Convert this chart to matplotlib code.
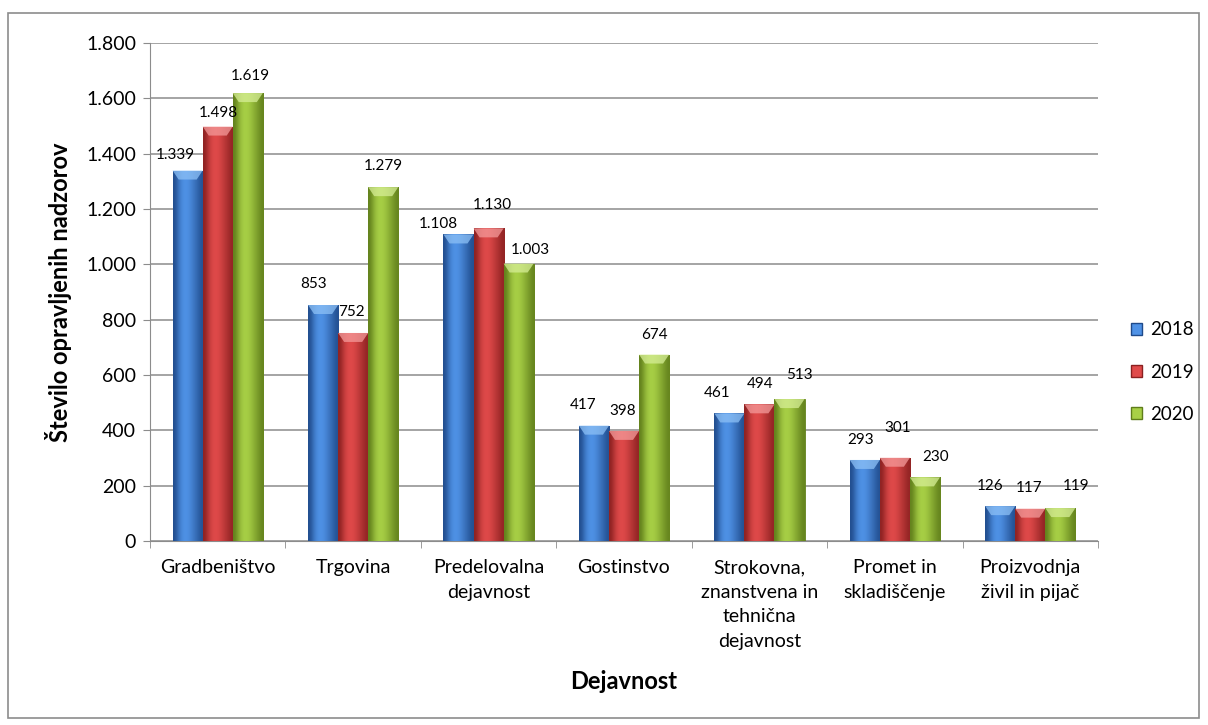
import matplotlib.pyplot as plt
import numpy as np
from matplotlib.colors import LinearSegmentedColormap
from matplotlib.patches import Polygon, Rectangle

# data
categories = ["Gradbeništvo", "Trgovina", "Predelovalna\ndejavnost", "Gostinstvo",
              "Strokovna,\nznanstvena in\ntehnična\ndejavnost", "Promet in\nskladiščenje",
              "Proizvodnja\nživil in pijač"]
years = ["2018", "2019", "2020"]
v2018 = [1339, 853, 1108, 417, 461, 293, 126]
v2019 = [1498, 752, 1130, 398, 494, 301, 117]
v2020 = [1619, 1279, 1003, 674, 513, 230, 119]

# label nudges (pixels) as placed in the original chart
lab_dx = [[-12, -10, -20, -11, -12, -4, -10],
          [1, -2, 4, -1, 1, 3, -1],
          [3, 0, 12, 0, 10, 11, 16]]
lab_dy = [[16, 21, 10, 21, 20, 20, 20],
          [14, 21, 23, 20, 20, 30, 21],
          [17, 21, 14, 20, 24, 20, 22]]

# (dark edge, light centre, top bevel)
colors = [("#1f4a8a", "#4f92e6", "#8cc0f6"),
          ("#8a2020", "#e04a4a", "#f49a9a"),
          ("#5f7d1a", "#a8d046", "#d6ee96")]

plt.rcParams['font.family'] = ['Lato', 'DejaVu Sans']

fig = plt.figure(figsize=(12.08, 7.25), dpi=100)
fig.patches.append(Rectangle((8 / 1208, 7 / 725), 1191 / 1208, 705 / 725, transform=fig.transFigure,
                             fill=False, edgecolor="#8c8c8c", linewidth=1.2))
ax = fig.add_axes([150 / 1208, 1 - 541 / 725, 948 / 1208, 498 / 725])

x = np.arange(len(categories))
w = 0.222
series = [v2018, v2019, v2020]
ax.set_xlim(-0.5, len(categories) - 0.5)
ax.set_ylim(0, 1800)

units_per_px = 1800 / 498.0
grad = np.array([[0.05, 0.6, 0.95, 1.0, 0.85, 0.6, 0.35, 0.1]])
for i, vals in enumerate(series):
    dark, light, top = colors[i]
    cmap = LinearSegmentedColormap.from_list("g%d" % i, [dark, light])
    bars = ax.bar(x + (i - 1) * w, vals, w, color=light, edgecolor=dark, linewidth=0.6,
                  label=years[i], zorder=3)
    for j, b in enumerate(bars):
        bx, by, bw, bh = b.get_x(), b.get_y(), b.get_width(), b.get_height()
        im = ax.imshow(grad, cmap=cmap, aspect="auto", extent=(bx, bx + bw, by, by + bh),
                       interpolation="bicubic", zorder=3.1, vmin=0, vmax=1)
        im.set_clip_path(b)
        d = 9 * units_per_px
        ins = bw * 0.2
        ax.add_patch(Polygon([(bx, by + bh), (bx + bw, by + bh), (bx + bw - ins, by + bh - d),
                              (bx + ins, by + bh - d)], closed=True, facecolor=top,
                             edgecolor="none", alpha=0.75, zorder=3.2))
        ax.annotate(f"{int(bh):,}".replace(",", "."), (bx + bw / 2, by + bh),
                    xytext=(lab_dx[i][j], lab_dy[i][j]), textcoords="offset pixels",
                    ha="center", va="center", fontsize=11, zorder=4)

ax.set_xlim(-0.5, len(categories) - 0.5)
ax.set_ylim(0, 1800)
ax.set_yticks(range(0, 1801, 200))
ax.set_yticklabels([f"{t:,}".replace(",", ".") for t in range(0, 1801, 200)], fontsize=14)
ax.set_xticks(x)
ax.set_xticklabels(categories, fontsize=14, va="top", linespacing=1.55)
ax.set_xticks(np.arange(-0.5, len(categories)), minor=True)
ax.tick_params(axis="x", which="major", length=0, pad=13)
ax.tick_params(axis="x", which="minor", length=5, color="#8c8c8c")
ax.tick_params(axis="y", length=5, color="#8c8c8c", pad=5)
ax.grid(axis="y", color="#8c8c8c", linewidth=1.1, zorder=0)
for s in ["top", "right"]:
    ax.spines[s].set_visible(False)
ax.spines["left"].set_color("#8c8c8c")
ax.spines["bottom"].set_color("#8c8c8c")
ax.set_axisbelow(True)

ax.set_ylabel("Število opravljenih nadzorov", fontsize=17, fontweight="bold", labelpad=10)
ax.set_xlabel("Dejavnost", fontsize=17, fontweight="bold", labelpad=14)

handles = [Rectangle((0, 0), 1, 1, facecolor=c[1], edgecolor=c[0]) for c in colors]
fig.legend(handles, years, loc="center left", bbox_to_anchor=(1131 / 1208, 1 - 372 / 725),
           frameon=False, fontsize=13.5, handlelength=0.6, handleheight=0.6,
           labelspacing=1.35, handletextpad=0.4, borderaxespad=0, borderpad=0)

fig.savefig("out.png", dpi=100)
